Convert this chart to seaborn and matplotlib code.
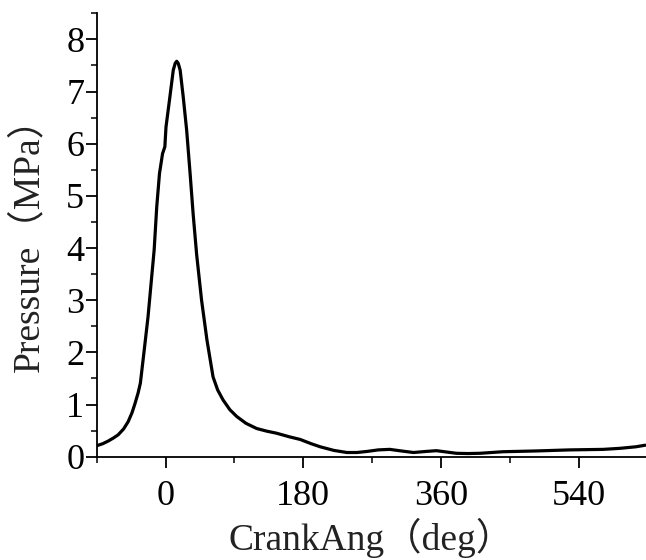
import matplotlib
matplotlib.use("Agg")
import matplotlib.pyplot as plt
import seaborn as sns
import pandas as pd
import numpy as np
from matplotlib.ticker import MultipleLocator

crank_angle = [-90, -82, -75, -68, -62, -55, -49, -44, -40, -36, -33, -28, -23, -19, -15, -11.6, -8, -4, -1, 0.5,
               5, 10, 12.5, 14.5, 16.5, 19, 23, 27.5, 32, 36, 40.6, 47, 54, 62, 68, 75, 84, 93,
               105, 119, 132, 145, 162, 176, 190, 202, 220, 237, 250, 263, 278, 293, 308, 324,
               340, 354, 367, 380, 395, 411, 441, 485, 528, 572, 594, 615, 627]
pressure = [0.21, 0.25, 0.30, 0.36, 0.42, 0.53, 0.67, 0.84, 1.02, 1.22, 1.41, 2.04, 2.68, 3.32, 3.96, 4.79, 5.43, 5.81, 5.94, 6.32,
            6.83, 7.41, 7.54, 7.58, 7.54, 7.41, 6.90, 6.26, 5.43, 4.65, 3.87, 3.0, 2.24, 1.53, 1.28, 1.09, 0.90, 0.77,
            0.64, 0.54, 0.49, 0.45, 0.38, 0.33, 0.25, 0.19, 0.12, 0.08, 0.08, 0.10, 0.13, 0.14, 0.11, 0.08,
            0.10, 0.115, 0.09, 0.065, 0.06, 0.065, 0.095, 0.11, 0.13, 0.14, 0.16, 0.19, 0.22]

df = pd.DataFrame({"CrankAng": crank_angle, "Pressure": pressure})

sns.set_theme(style="ticks")
plt.rcParams["font.family"] = ["Liberation Serif", "Noto Sans CJK SC"]

fig = plt.figure(figsize=(6.46, 5.6), dpi=100)
ax = fig.add_axes([0.1498, 0.1845, 0.8502, 0.7918])

sns.lineplot(data=df, x="CrankAng", y="Pressure", ax=ax, color="black",
             linewidth=2.3, sort=False)
ax.lines[0].set_solid_joinstyle("round")

ax.set_xlim(-90, 628)
ax.set_ylim(0, 8.5)
ax.xaxis.set_major_locator(MultipleLocator(180))
ax.xaxis.set_minor_locator(MultipleLocator(90))
ax.yaxis.set_major_locator(MultipleLocator(1))
ax.yaxis.set_minor_locator(MultipleLocator(0.5))

for side in ["top", "right"]:
    ax.spines[side].set_visible(False)
for side in ["left", "bottom"]:
    ax.spines[side].set_linewidth(1.3)
    ax.spines[side].set_color("black")

ax.tick_params(axis="both", which="major", direction="out", length=8, width=1.3,
               labelsize=26, colors="black")
ax.tick_params(axis="both", which="minor", direction="out", length=4.5, width=1.1,
               colors="black")
ax.tick_params(axis="y", which="major", pad=1)
ax.tick_params(axis="x", which="major", pad=9)

ax.set_xlabel("CrankAng\uff08deg\uff09", fontsize=27, labelpad=3, color="#222222")
ax.set_ylabel("Pressure\uff08MPa\uff09", fontsize=27, labelpad=14, color="#222222")

fig.savefig("out.png", dpi=100)
